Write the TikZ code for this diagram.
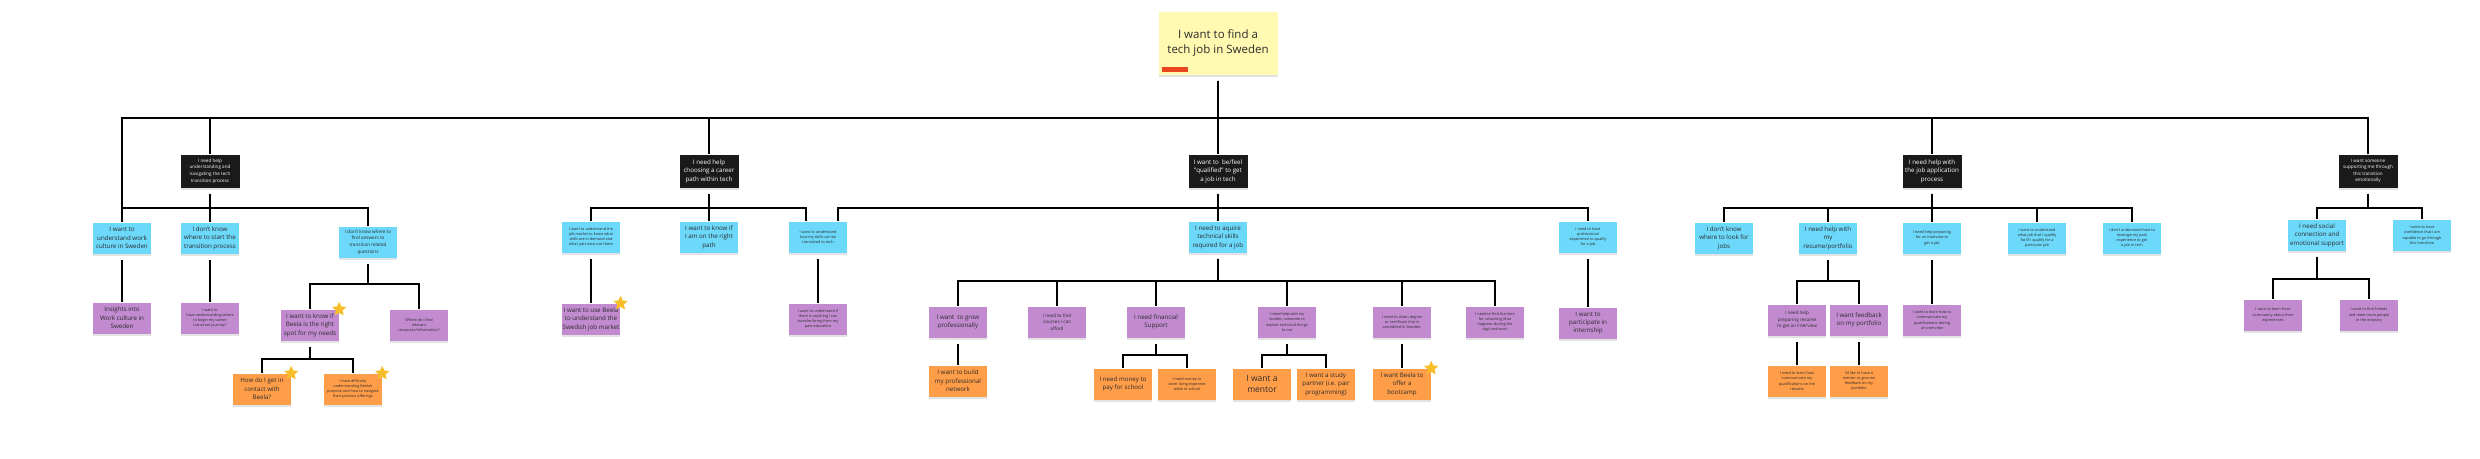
\documentclass[tikz,border=0pt]{standalone}
\usepackage{fontspec}
\setmainfont{Open Sans}
\usetikzlibrary{positioning,shapes.geometric,shadows}

\definecolor{goalfill}{HTML}{FFF9B1}
\definecolor{painfill}{HTML}{1A1A1A}
\definecolor{needfill}{HTML}{6CD8FA}
\definecolor{wantfill}{HTML}{C28BD0}
\definecolor{ideafill}{HTML}{FF9D48}
\definecolor{tagred}{HTML}{E8461E}
\definecolor{stargold}{HTML}{F7BE2A}
\definecolor{inktext}{HTML}{2B2B2B}

\begin{document}
\begin{tikzpicture}[x=1pt, y=-1pt,
	on grid,
	note/.style={rectangle, minimum width=58pt, minimum height=31pt, inner sep=1pt, align=center, text=inktext,
		drop shadow={shadow xshift=0pt, shadow yshift=-2.5pt, opacity=.22}},
	goal/.style={note, fill=goalfill, minimum width=119pt, minimum height=63pt, font=\fontsize{11.5}{15}\selectfont},
	pain/.style={note, fill=painfill, text=white, minimum width=59pt, minimum height=33pt},
	need/.style={note, fill=needfill},
	want/.style={note, fill=wantfill},
	idea/.style={note, fill=ideafill},
	txtL/.style={font=\fontsize{6.2}{8.4}\selectfont},
	txtM/.style={font=\fontsize{4.6}{6.6}\selectfont},
	txtS/.style={font=\fontsize{3.8}{5.2}\selectfont},
	fav/.style={star, star points=5, star point ratio=2.1, fill=stargold, minimum size=15pt, inner sep=0pt},
	link/.style={line width=2pt, shorten <=6pt},
	elbow/.style={to path={-- ++(0,#1) -| (\tikztotarget) \tikztonodes}}]

\useasboundingbox (0,0) rectangle (2480,458);

% Goal
\node[goal] (R) at (1218,43) {I want to find a\\tech job in Sweden};
\fill[tagred] ([xshift=4pt,yshift=3pt]R.south west) rectangle ++(26,-5);

% Pain points
\node[pain, txtL,
	below=128pt of R] (B3) {I want to\enspace be/feel\\"qualified" to get\\a job in tech};

\node[pain, txtL,
	left=509pt of B3] (B2) {I need help\\choosing a career\\path within tech};

\node[pain, txtM,
	left=499pt of B2] (B1) {I need help\\understanding and\\navigating the tech\\transition process};

\node[pain, txtL,
	right=714pt of B3] (B4) {I need help with\\the job application\\process};

\node[pain, txtM,
	right=436pt of B4] (B5) {I want someone\\supporting me through\\this transition\\emotionally};

% Needs
\node[need, txtL,
	below=67pt of B1] (A2) {I don't know\\where to start the\\transition process};

\node[need, txtL,
	left=88pt of A2] (A1) {I want to\\understand work\\culture in Sweden};

\node[need, txtM,
	below right=4pt and 158pt of A2] (A3) {I don't know where to\\find answers to\\transition related\\questions};

\node[need, txtL,
	below=66pt of B2] (C2) {I want to know if\\I am on the right\\path};

\node[need, txtS,
	left=118pt of C2] (C1) {I want to understand the\\job market to know what\\skills are in demand and\\what jobs exist out there};

\node[need, txtS,
	right=109pt of C2] (C3) {I want to understand\\how my skills can be\\translated to tech};

\node[need, txtL,
	below=66pt of B3] (D1) {I need to aquire\\technical skills\\required for a job};

\node[need, txtS,
	right=370pt of D1] (D2) {I need to have\\professional\\experience to qualify\\for a job};

\node[need, txtS,
	below=67pt of B4] (E3) {I need help preparing\\for an interview to\\get a job};

\node[need, txtL,
	left=104pt of E3] (E2) {I need help with\\my\\resume/portfolio};

\node[need, txtL,
	left=104pt of E2] (E1) {I don't know\\where to look for\\jobs};

\node[need, txtS,
	right=105pt of E3] (E4) {I want to understand\\what job that I qualify\\for/if I qualify for a\\particular job};

\node[need, txtS,
	right=95pt of E4] (E5) {I don't understand how to\\leverage my past\\experience to get\\a job in tech};

\node[need, txtL,
	below left=64pt and 51pt of B5] (F1) {I need social\\connection and\\emotional support};

\node[need, txtS,
	right=105pt of F1] (F2) {I want to have\\confidence that I am\\capable to go through\\this transition};

% Wants
\node[want, txtL,
	below=80pt of A1] (A1c) {Insights into\\Work culture in\\Sweden};

\node[want, txtS,
	below=80pt of A2] (A2c) {I want to\\have understanding where\\to begin my career\\transition journey?};

\node[want, txtL,
	below left=83pt and 58pt of A3] (G1) {I want to know if\\Beela is the right\\spot for my needs};

\node[want, txtS,
	right=109pt of G1] (G2) {Where do I find\\relevant\\resources/information?};

\node[want, txtL,
	below=82pt of C1] (C1c) {I want to use Beela\\to understand the\\Swedish job market};

\node[want, txtS,
	below=82pt of C3] (C3c) {I want to understand if\\there is anything I can\\transfer/bring from my\\past education};

\node[want, txtL,
	below left=85pt and 260pt of D1] (K1) {I want\enspace to grow\\professionally};

\node[want, txtM,
	right=99pt of K1] (K2) {I need to find\\courses I can\\afford};

\node[want, txtL,
	right=99pt of K2] (K3) {I need financial\\Support};

\node[want, txtS,
	right=131pt of K3] (K4) {I need help with my\\studies, someone to\\explain technical things\\to me};

\node[want, txtS,
	right=115pt of K4] (K5) {I need to attain degree\\or certificate that is\\accredited in Sweden.};

\node[want, txtS,
	right=93pt of K5] (K6) {I need to find the time\\for schooling (that\\happens during the\\day) and work};

\node[want, txtL,
	below=86pt of D2] (D2c) {I want to\\participate in\\internship};

\node[want, txtM,
	below left=82pt and 31pt of E2] (N1) {I need help\\preparing resume\\to get an interview};

\node[want, txtL,
	right=62pt of N1] (N2) {I want feedback\\on my portfolio};

\node[want, txtS,
	below=82pt of E3] (E3c) {I want to learn how to\\communicate my\\qualifications during\\an interview};

\node[want, txtS,
	below left=80pt and 44pt of F1] (P1) {I want to learn from\\community about their\\experiences};

\node[want, txtS,
	right=96pt of P1] (P2) {I want to find friends\\and meet more people\\in the industry};

% Ideas
\node[idea, txtL,
	below left=64pt and 48pt of G1] (H1) {How do I get in\\contact with\\Beela?};

\node[idea, txtS,
	right=91pt of H1] (H2) {I have difficulty\\understanding Beela's\\purpose and how to navigate\\their product offerings};

\node[idea, txtL,
	below=59pt of K1] (K1c) {I want to build\\my professional\\network};

\node[idea, txtL,
	below left=62pt and 33pt of K3] (L1) {I need money to\\pay for school};

\node[idea, txtS,
	right=64pt of L1] (L2) {I need money to\\cover living expenses\\while in school};

\node[idea, txtL,
	below right=62pt and 39pt of K4] (M2) {I want a study\\partner (i.e. pair\\programming)};

\node[idea, font=\fontsize{8.5}{10.5}\selectfont,
	left=64pt of M2] (M1) {I want a\\mentor};

\node[idea, txtL,
	below=62pt of K5] (K5c) {I want Beela to\\offer a\\bootcamp};

\node[idea, txtS,
	below=61pt of N1] (N1c) {I need to learn how\\communicate my\\qualifications on the\\resume};

\node[idea, txtS,
	below=61pt of N2] (N2c) {I'd like to have a\\mentor to give me\\feedback on my\\portfolio};

% Stars
\node[fav] (G1star) at (G1.north east) {};
\node[fav] (H1star) at (H1.north east) {};
\node[fav] (H2star) at (H2.north east) {};
\node[fav] (C1cstar) at (C1c.north east) {};
\node[fav] (K5cstar) at (K5c.north east) {};

% connections
\draw[link] (R.south) edge[elbow=43] (A1.north)
	edge[elbow=43] (B1.north)
	edge[elbow=43] (B2.north)
	edge[elbow=43] (B3.north)
	edge[elbow=43] (B4.north)
	edge[elbow=43] (B5.north);

\draw[link] (B1.south) edge[elbow=20] (A1.north)
	edge[elbow=20] (A2.north)
	edge[elbow=20] (A3.north);

\draw[link] (B2.south) edge[elbow=20] (C1.north)
	edge[elbow=20] (C2.north)
	edge[elbow=20] ([xshift=-12pt]C3.north);

\draw[link] (B3.south) edge[elbow=20] ([xshift=20pt]C3.north)
	edge[elbow=20] (D1.north)
	edge[elbow=20] (D2.north);

\draw[link] (B4.south) edge[elbow=20] (E1.north)
	edge[elbow=20] (E2.north)
	edge[elbow=20] (E3.north)
	edge[elbow=20] (E4.north)
	edge[elbow=20] (E5.north);

\draw[link] (B5.south) edge[elbow=20] (F1.north)
	edge[elbow=20] (F2.north);

\draw[link] (A1.south) edge (A1c.north)
	(A2.south) edge (A2c.north)
	(C1.south) edge (C1c.north)
	(C3.south) edge (C3c.north)
	(D2.south) edge (D2c.north)
	(E3.south) edge (E3c.north);

\draw[link] (A3.south) edge[elbow=26] (G1.north)
	edge[elbow=26] (G2.north);

\draw[link] (G1.south) edge[elbow=18] (H1.north)
	edge[elbow=18] (H2.north);

\draw[link] (D1.south) edge[elbow=28] (K1.north)
	edge[elbow=28] (K2.north)
	edge[elbow=28] (K3.north)
	edge[elbow=28] (K4.north)
	edge[elbow=28] (K5.north)
	edge[elbow=28] (K6.north);

\draw[link] (K1.south) edge (K1c.north)
	(K5.south) edge (K5c.north)
	(N1.south) edge (N1c.north)
	(N2.south) edge (N2c.north);

\draw[link] (K3.south) edge[elbow=17] (L1.north)
	edge[elbow=17] (L2.north);

\draw[link] (K4.south) edge[elbow=17] (M1.north)
	edge[elbow=17] (M2.north);

\draw[link] (E2.south) edge[elbow=27] (N1.north)
	edge[elbow=27] (N2.north);

\draw[link] (F1.south) edge[elbow=28] (P1.north)
	edge[elbow=28] (P2.north);

\end{tikzpicture}
\end{document}
